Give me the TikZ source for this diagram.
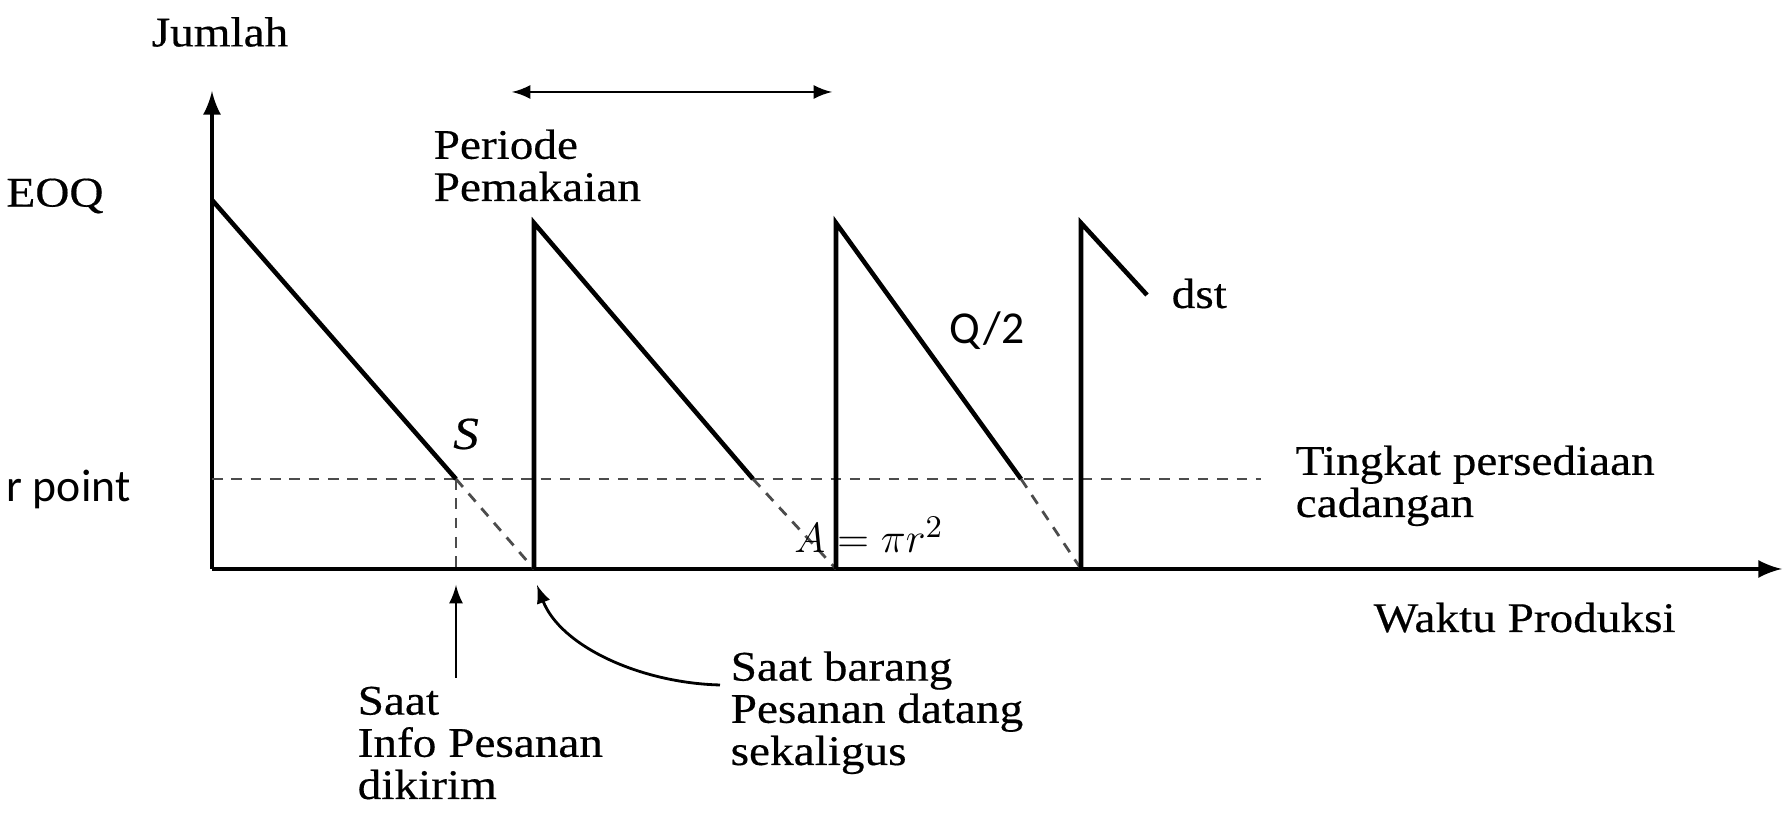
\documentclass[tikz,border=0pt]{standalone}
\usepackage{fontspec}
\setmainfont{Liberation Serif}[FakeStretch=1.12,FakeBold=0.4]
\newfontfamily\calibrifont{Carlito}
\usepackage{tikz}
\usetikzlibrary{arrows,positioning}

\tikzset{
	lbl/.style={font=\fontsize{12}{12}\selectfont, align=left, inner sep=0pt},
	sans/.style={font=\calibrifont\fontsize{13}{15}\selectfont, inner sep=0pt},
	stock/.style={line width=1.3pt},
	safety/.style={line width=0.8pt, black!70, dash pattern=on 3pt off 2.5pt},
}

\begin{document}
\begin{tikzpicture}
				\useasboundingbox (0,0) rectangle (17.89,8.21);
				% axes
				\coordinate (O) at (2.12,2.52);
				\coordinate (ytop) at (2.12,7.30);
				\coordinate (xend) at (17.82,2.52);
				\draw[stock,arrows=-latex] (O) -- (ytop);
				\draw[stock,arrows=-latex] (O) -- (xend);
				\node[lbl] (jumlah) at (2.20,7.89) {Jumlah};
				\node[lbl,anchor=base west] (waktu) at (13.73,1.89) {Waktu Produksi};
				\node[lbl] (eoq) at (0.55,6.25) {EOQ};
				 % sawtooth
				 \coordinate (p1) at (2.12,6.21);
				 \coordinate (s1) at (4.56,3.42);
				 \coordinate (b1) at (5.34,2.52);
				 \coordinate (p2) at (5.34,5.98);
				 \coordinate (s2) at (7.53,3.42);
				 \coordinate (b2) at (8.36,2.52);
				 \coordinate (p3) at (8.36,5.98);
				 \coordinate (s3) at (10.21,3.42);
				 \coordinate (b3) at (10.81,2.52);
				 \coordinate (p4) at (10.81,5.98);
				 \coordinate (e4) at (11.47,5.26);
				 \draw[safety] (O |- s1) -- (12.61,3.42);
				 \draw[safety] (s1) -- (s1 |- O);
				 \draw[safety] (s1) -- (b1);
				 \draw[safety] (s2) -- (b2);
				 \draw[safety] (s3) -- (b3);
				 \draw[stock] (p1) -- (s1);
				 \draw[stock] (b1) -- (p2) -- (s2);
				 \draw[stock] (b2) -- (p3) -- (s3);
				 \draw[stock] (b3) -- (p4) -- (e4);
				 \node[lbl,anchor=base west] (dst) at (11.71,5.13) {dst};
				 \node[sans] (qhalf) at (9.87,4.90) {Q/2};
				 \node[lbl,font=\fontsize{13}{15}\selectfont] (titik) at (4.66,3.87) {\textit{S}};
				 \node[inner sep=0pt,font=\fontsize{13}{15}\selectfont] (luas) at (8.69,2.86) {$A=\pi r^2$};
				 \node[sans,anchor=west] (rop) at (0.06,3.32) {r point};
				 \node[lbl,anchor=base west] (cadangan) at (12.95,3.04) {Tingkat persediaan\\cadangan};
				 % periode
				 \coordinate (pa) at (5.12,7.29);
				 \coordinate (pb) at (8.32,7.29);
				 \draw[line width=0.8pt,arrows=latex-latex] (pa) -- (pb);
				 \node[lbl,anchor=base west] (periode) at (4.33,6.20) {Periode\\Pemakaian};
				 % keterangan bawah
				 \node[lbl,anchor=base west] (info) at (3.57,0.22) {Saat\\Info Pesanan\\dikirim};
				 \node[lbl,anchor=base west] (barang) at (7.30,0.56) {Saat barang\\Pesanan datang\\sekaligus};
				 \coordinate (kirim) at (4.56,2.36);
				 \coordinate (tiba) at (5.37,2.36);
				 \coordinate (ekor) at ([xshift=-0.1cm]barang.west |- 0,1.36);
				 \draw[line width=0.8pt,arrows=-latex] (4.56,1.43) -- (kirim);
				 \draw[line width=0.8pt,arrows=-latex] (ekor) .. controls (6.4,1.38) and (5.6,1.75) .. (tiba);
			\end{tikzpicture}
\end{document}
